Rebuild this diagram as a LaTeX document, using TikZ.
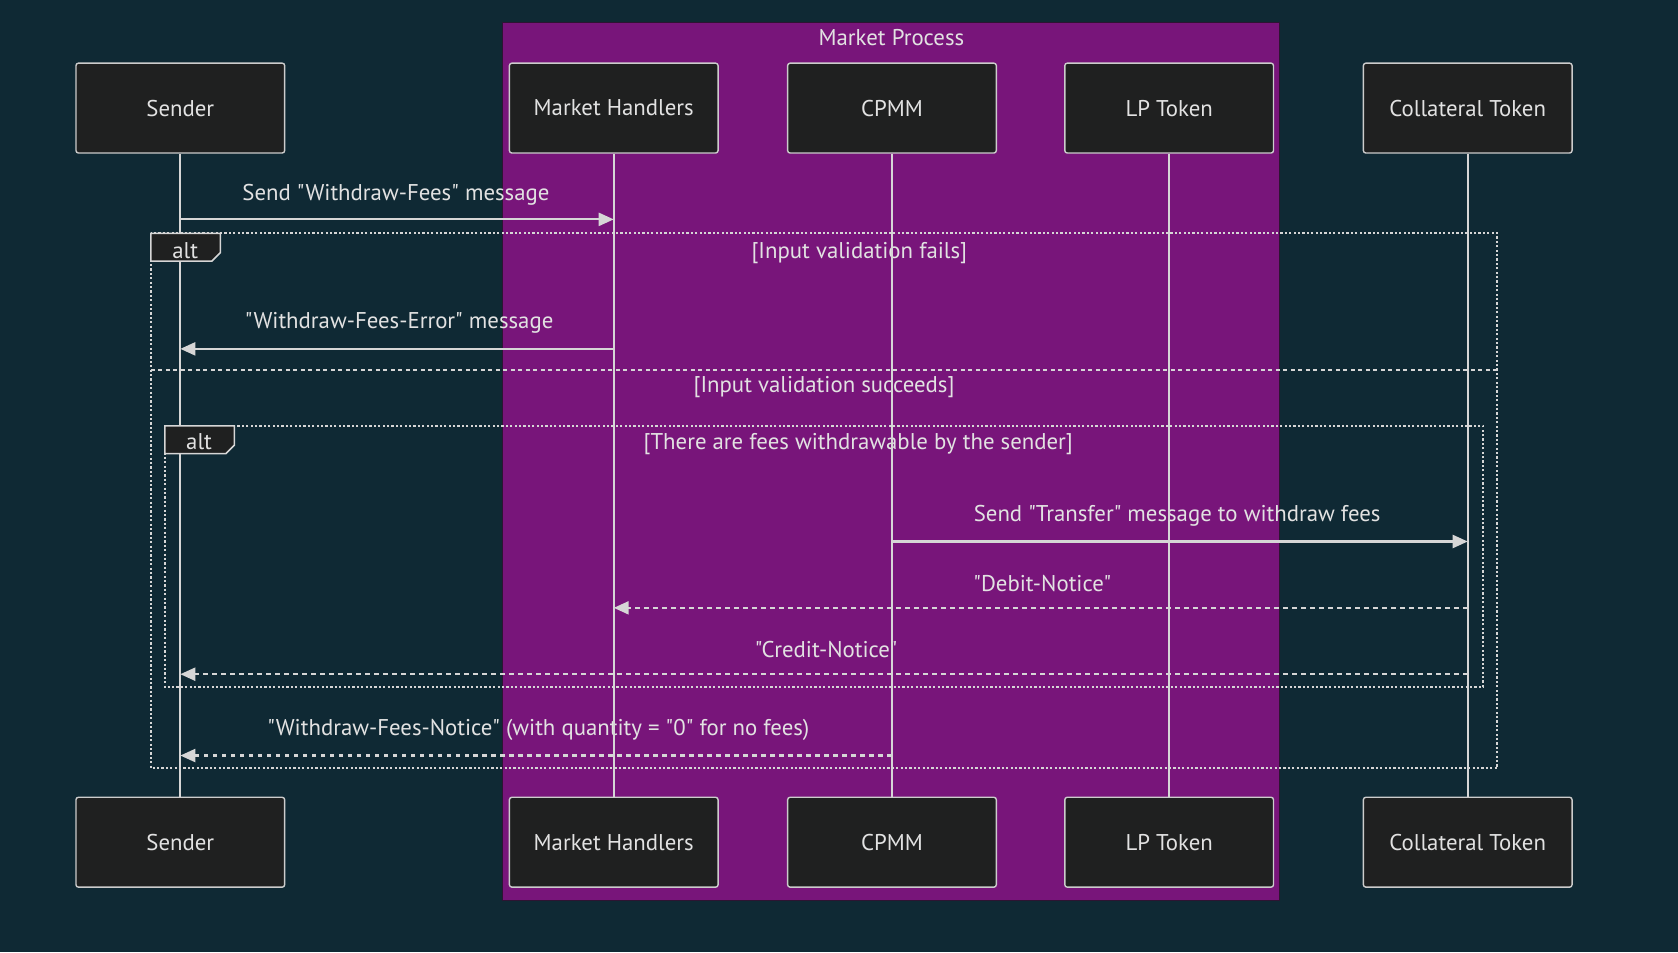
\documentclass[tikz,border=0pt]{standalone}
\usepackage{fontspec}
\setmainfont{PT Sans}[Ligatures=TeXOff]
\usetikzlibrary{arrows.meta}
\definecolor{bg}{RGB}{15,41,52}
\definecolor{proc}{RGB}{120,21,122}
\definecolor{procline}{RGB}{45,20,50}
\definecolor{actfill}{RGB}{31,32,32}
\definecolor{actline}{RGB}{204,204,204}
\definecolor{txt}{RGB}{226,226,226}
\definecolor{ln}{RGB}{214,214,214}
\begin{document}
\begin{tikzpicture}[x=1.0702pt,y=-1.0702pt,
  actor/.style={draw=actline, line width=1.4pt, fill=actfill, rounded corners=2.5pt,
    minimum width=208.7pt, minimum height=89.9pt, text=txt,
    font=\fontsize{22.8}{26}\selectfont, inner sep=0pt},
  lbl/.style={text=txt, font=\fontsize{22.8}{26}\selectfont, inner sep=0pt},
  life/.style={draw=ln, line width=2.2pt},
  msg/.style={draw=ln, line width=2.2pt, -{Triangle[length=15pt,width=13pt]}},
  reply/.style={msg, dash pattern=on 4.5pt off 4.5pt},
  frameline/.style={draw=ln, line width=2.2pt, dash pattern=on 2.2pt off 2.2pt},
  sepline/.style={draw=ln, line width=2.2pt, dash pattern=on 4pt off 3.5pt},
  tag/.style={draw=ln, line width=1.5pt, fill=actfill}
]
\useasboundingbox (0,0) rectangle (1568,890);
\fill[bg] (0,0) rectangle (1568,890);
% Market Process box
\draw[procline, fill=proc, line width=1pt] (470,21) rectangle (1196,841);
\node[lbl] (proctitle) at (833,35) {Market Process};

% actors
\node[actor] (sT) at (168.5,101) {Sender};
\node[actor] (mT) at (573.5,101) {Market Handlers};
\node[actor] (cT) at (833.5,101) {CPMM};
\node[actor] (lT) at (1092.5,101) {LP Token};
\node[actor] (kT) at (1371.5,101) {Collateral Token};
\node[actor] (sB) at (168.5,787) {Sender};
\node[actor] (mB) at (573.5,787) {Market Handlers};
\node[actor] (cB) at (833.5,787) {CPMM};
\node[actor] (lB) at (1092.5,787) {LP Token};
\node[actor] (kB) at (1371.5,787) {Collateral Token};

% labels (under lifelines)
\node[lbl] (t1) at (370,182) {Send "Withdraw-Fees" message};
\node[lbl] (g1) at (803,236) {[Input validation fails]};
\node[lbl] (t2) at (373,302) {"Withdraw-Fees-Error" message};
\node[lbl] (g2) at (770,362) {[Input validation succeeds]};
\node[lbl] (g3) at (802,415) {[There are fees withdrawable by the sender]};
\node[lbl] (t3) at (1100,482) {Send "Transfer" message to withdraw fees};
\node[lbl] (t4) at (974,545) {"Debit-Notice"};
\node[lbl] (t5) at (772,607) {"Credit-Notice"};
\node[lbl] (t6) at (503,682) {"Withdraw-Fees-Notice" (with quantity = "0" for no fees)};

% lifelines
\draw[life] (sT.south) -- (sB.north);
\draw[life] (mT.south) -- (mB.north);
\draw[life] (cT.south) -- (cB.north);
\draw[life] (lT.south) -- (lB.north);
\draw[life] (kT.south) -- (kB.north);

% outer alt frame
\draw[frameline] (141,218) rectangle (1399,718);
\draw[sepline] (141,346) -- (1399,346);
\draw[tag] (141,218) -- (206,218) -- (206,236) -- (198,244) -- (141,244) -- cycle;
\node[lbl] (alt1) at (173,234) {alt};
% inner alt frame
\draw[frameline] (154,398) rectangle (1386,642);
\draw[tag] (154,398) -- (219,398) -- (219,416) -- (211,424) -- (154,424) -- cycle;
\node[lbl] (alt2) at (186,413) {alt};

% message endpoints
\coordinate (m1a) at (sT.center |- 0,205);
\coordinate (m1b) at (mT.center |- 0,205);
\coordinate (m2a) at (mT.center |- 0,326);
\coordinate (m2b) at (sT.center |- 0,326);
\coordinate (m3a) at (cT.center |- 0,506);
\coordinate (m3b) at (kT.center |- 0,506);
\coordinate (m4a) at (kT.center |- 0,568);
\coordinate (m4b) at (mT.center |- 0,568);
\coordinate (m5a) at (kT.center |- 0,630);
\coordinate (m5b) at (sT.center |- 0,630);
\coordinate (m6a) at (cT.center |- 0,706);
\coordinate (m6b) at (sT.center |- 0,706);

\draw[msg] (m1a) -- (m1b);
\draw[msg] (m2a) -- (m2b);
\draw[msg] (m3a) -- (m3b);
\draw[reply] (m4a) -- (m4b);
\draw[reply] (m5a) -- (m5b);
\draw[reply] (m6a) -- (m6b);
\end{tikzpicture}
\end{document}
